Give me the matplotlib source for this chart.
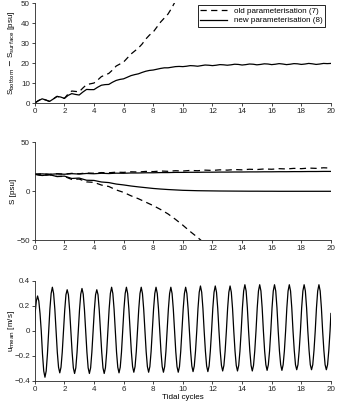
import numpy as np
import matplotlib
matplotlib.use('Agg')
import matplotlib.pyplot as plt

plt.rcParams['font.family'] = ['Liberation Sans', 'DejaVu Sans']
plt.rcParams['font.size'] = 5.8
plt.rcParams['axes.linewidth'] = 0.6

# time grids (tidal cycles)
t_q = np.arange(0, 20.01, 0.25)
t_h = np.arange(0, 20.01, 0.5)
t_u = np.concatenate(([0.0], 0.19 + (np.arange(240) - 2) / 12, [20.0]))

# panel 1: S_bottom - S_surface [psu]
dS_old = [0.0, 1.2, 2.1, 1.5, 0.8, 2.0, 3.3, 3.0, 2.3, 4.5, 6.0, 5.8, 5.6, 7.5,
          9.2, 9.6, 10.0, 11.5, 13.2, 14.0, 14.8, 16.5, 18.5, 19.5, 20.5, 22.5,
          24.5, 26.0, 27.5, 29.5, 32.0, 34.0, 35.5, 38.0, 40.5, 42.5, 44.5,
          47.5, 51.0, 55.0]
dS_new = [0.0, 1.2, 2.1, 1.5, 0.8, 2.0, 3.3, 3.0, 2.3, 3.8, 4.7, 4.3, 4.0, 5.5,
          6.8, 6.7, 6.7, 7.9, 8.9, 9.2, 9.3, 10.4, 11.3, 11.8, 12.1, 12.9, 13.7,
          14.2, 14.6, 15.3, 15.9, 16.3, 16.5, 16.9, 17.3, 17.6, 17.6, 17.9, 18.2,
          18.3, 18.2,
          18.4, 18.7, 18.6, 18.4, 18.7, 19.0, 18.9, 18.7, 18.9, 19.2, 19.1, 18.9,
          19.1, 19.4, 19.3, 19.0, 19.2, 19.5, 19.4, 19.1, 19.3, 19.6, 19.5, 19.2,
          19.4, 19.7, 19.5, 19.2, 19.4, 19.7, 19.6, 19.3, 19.5, 19.8, 19.6, 19.3,
          19.5, 19.8, 19.7, 19.8]

# panel 2: bottom and surface salinity [psu]
S_bot_old = [17.5, 17.9, 17.4, 18.0, 17.6, 18.4, 18.0, 18.8, 18.5, 19.2, 19.0,
             19.6, 19.4, 20.0, 19.8, 20.4, 20.2, 20.8, 20.5, 21.1, 20.8, 21.4,
             21.1, 21.7, 21.4, 22.0, 21.7, 22.3, 22.0, 22.6, 22.3, 22.9, 22.6,
             23.2, 22.9, 23.5, 23.2, 23.8, 23.5, 24.1, 23.8]
S_bot_new = [17.5, 17.9, 17.4, 17.9, 17.5, 18.1, 17.7, 18.3, 18.0, 18.5, 18.2,
             18.6, 18.5, 18.8, 18.8, 19.0, 19.0, 19.2, 19.2, 19.4, 19.4, 19.5,
             19.5, 19.6, 19.6, 19.7, 19.7, 19.8, 19.8, 19.9, 19.9, 20.0, 20.0,
             20.1, 20.1, 20.2, 20.2, 20.3, 20.3, 20.4, 20.4]
S_surf_old = [17.5, 16.2, 17.0, 15.2, 15.3, 12.2, 12.6, 9.7, 9.2, 6.5, 5.0, 1.5,
              -1.0, -4.5, -7.5, -11.0, -14.5, -18.5, -23.0, -28.5, -34.5, -41.0,
              -47.0, -53.5, -60.0]
S_surf_new = [17.5, 16.2, 17.0, 15.2, 15.6, 13.2, 13.6, 11.4, 11.2, 9.6, 9.0, 7.5,
              6.6, 5.5, 4.6, 3.8, 3.0, 2.4, 1.9, 1.5, 1.1, 0.9, 0.7, 0.6, 0.5,
              0.4, 0.35, 0.3, 0.25, 0.2, 0.2, 0.15, 0.15, 0.1, 0.1, 0.1, 0.1,
              0.1, 0.1, 0.1, 0.1]

# panel 3: depth-mean velocity [m/s], one row per tidal cycle
u_mean = [0.0,
    0.14, 0.24, 0.28, 0.24, 0.14, 0, -0.185, -0.32, -0.37, -0.32, -0.185, 0,
    0.175, 0.30, 0.35, 0.30, 0.175, 0, -0.17, -0.29, -0.335, -0.29, -0.17, 0,
    0.165, 0.29, 0.33, 0.29, 0.165, 0, -0.17, -0.295, -0.34, -0.295, -0.17, 0,
    0.17, 0.295, 0.34, 0.295, 0.17, 0, -0.17, -0.295, -0.34, -0.295, -0.17, 0,
    0.165, 0.29, 0.33, 0.29, 0.165, 0, -0.17, -0.295, -0.34, -0.295, -0.17, 0,
    0.175, 0.30, 0.35, 0.30, 0.175, 0, -0.17, -0.29, -0.335, -0.29, -0.17, 0,
    0.175, 0.30, 0.35, 0.30, 0.175, 0, -0.165, -0.285, -0.33, -0.285, -0.165, 0,
    0.175, 0.30, 0.35, 0.30, 0.175, 0, -0.165, -0.285, -0.33, -0.285, -0.165, 0,
    0.175, 0.30, 0.35, 0.30, 0.175, 0, -0.165, -0.285, -0.33, -0.285, -0.165, 0,
    0.175, 0.30, 0.35, 0.30, 0.175, 0, -0.165, -0.285, -0.33, -0.285, -0.165, 0,
    0.175, 0.30, 0.35, 0.30, 0.175, 0, -0.16, -0.28, -0.325, -0.28, -0.16, 0,
    0.18, 0.31, 0.36, 0.31, 0.18, 0, -0.16, -0.28, -0.325, -0.28, -0.16, 0,
    0.18, 0.31, 0.36, 0.31, 0.18, 0, -0.16, -0.275, -0.32, -0.275, -0.16, 0,
    0.18, 0.31, 0.36, 0.31, 0.18, 0, -0.16, -0.275, -0.32, -0.275, -0.16, 0,
    0.185, 0.32, 0.37, 0.32, 0.185, 0, -0.16, -0.275, -0.32, -0.275, -0.16, 0,
    0.185, 0.32, 0.37, 0.32, 0.185, 0, -0.16, -0.27, -0.315, -0.27, -0.16, 0,
    0.185, 0.32, 0.37, 0.32, 0.185, 0, -0.16, -0.27, -0.315, -0.27, -0.16, 0,
    0.185, 0.32, 0.37, 0.32, 0.185, 0, -0.155, -0.27, -0.31, -0.27, -0.155, 0,
    0.185, 0.32, 0.37, 0.32, 0.185, 0, -0.155, -0.27, -0.31, -0.27, -0.155, 0,
    0.185, 0.32, 0.37, 0.32, 0.185, 0, -0.155, -0.27, -0.31, -0.27, -0.155, 0,
    0.14]

x_ticks = np.arange(0, 21, 2)
axis_col = '#262626'
dash = (0, (5, 3.5))
lw = 0.9

fig = plt.figure(figsize=(3.44, 4.04), dpi=100)
ax1 = fig.add_axes([0.101, 0.745, 0.861, 0.2475])
ax2 = fig.add_axes([0.101, 0.405, 0.861, 0.2425])
ax3 = fig.add_axes([0.101, 0.057, 0.861, 0.2475])

ax1.plot(t_q[:len(dS_old)], dS_old, color='k', lw=lw, linestyle=dash,
         label='old parameterisation (7)')
ax1.plot(t_q, dS_new, color='k', lw=lw, label='new parameterisation (8)')
ax1.set_ylim(0, 50)
ax1.set_yticks(np.arange(0, 51, 10))
ax1.set_ylabel('S$_{\\mathrm{bottom}}$ $-$ S$_{\\mathrm{surface}}$ [psu]')
leg = ax1.legend(loc='upper right', bbox_to_anchor=(0.98, 0.98), borderaxespad=0,
                 fancybox=False, framealpha=1, edgecolor='k', handlelength=3.4,
                 borderpad=0.3, labelspacing=0.2, handletextpad=0.8)
leg.get_frame().set_linewidth(0.6)

ax2.plot(t_h, S_bot_old, color='k', lw=lw, linestyle=dash)
ax2.plot(t_h[:len(S_surf_old)], S_surf_old, color='k', lw=lw, linestyle=dash)
ax2.plot(t_h, S_bot_new, color='k', lw=lw)
ax2.plot(t_h, S_surf_new, color='k', lw=lw)
ax2.set_ylim(-50, 50)
ax2.set_yticks([-50, 0, 50])
ax2.set_yticklabels(['\u221250', '0', '50'])
ax2.set_ylabel('S [psu]')

ax3.plot(t_u, u_mean, color='k', lw=lw)
ax3.set_ylim(-0.4, 0.4)
ax3.set_yticks([-0.4, -0.2, 0, 0.2, 0.4])
ax3.set_yticklabels(['\u22120.4', '\u22120.2', '0', '0.2', '0.4'])
ax3.set_ylabel('u$_{\\mathrm{mean}}$ [m/s]')
ax3.set_xlabel('Tidal cycles', labelpad=1.2)

for ax in (ax1, ax2, ax3):
    ax.set_xlim(0, 20)
    ax.set_xticks(x_ticks)
    for s in ('top', 'right'):
        ax.spines[s].set_visible(False)
    for s in ('left', 'bottom'):
        ax.spines[s].set_color(axis_col)
    ax.tick_params(direction='out', length=2, width=0.6, pad=1.5,
                   colors=axis_col, labelcolor=axis_col)
    ax.yaxis.set_label_coords(-0.06, 0.5)

fig.savefig('out.png', dpi=100)
